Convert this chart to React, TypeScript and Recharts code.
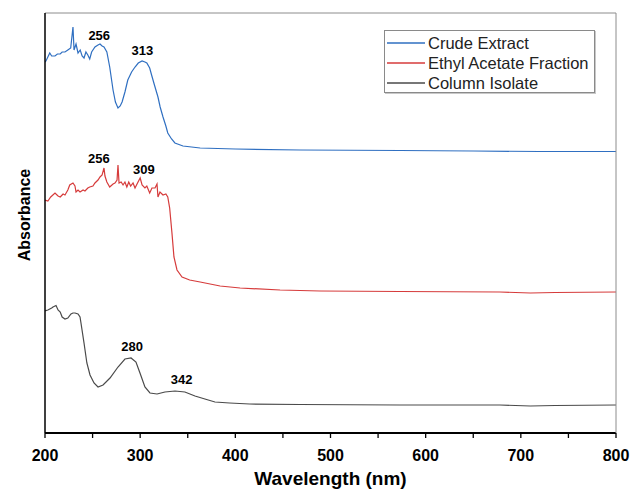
import { LineChart, Line, XAxis, YAxis, Legend, ReferenceDot } from "recharts"

// wavelength (nm) / absorbance (offset, arbitrary units)
const crudeWl = [200, 201, 205, 207, 210.5, 213, 216, 218, 221, 224, 227, 229.4, 230.5, 232.6, 234.7, 237, 239, 241, 243, 245, 247, 249, 252.5, 255.7, 257.8, 260, 262, 265, 268, 271.5, 274, 276.7, 279, 281, 284, 287, 291, 294.6, 298, 302, 305, 307, 310, 312, 315, 318.7, 321, 324, 327, 329, 333, 336.5, 345, 363, 400, 468, 573, 650, 720, 800]
const crudeAbs = [3.71, 3.72, 3.8, 3.77, 3.77, 3.79, 3.79, 3.81, 3.81, 3.83, 3.85, 4.06, 3.83, 3.89, 3.8, 3.83, 3.77, 3.75, 3.81, 3.78, 3.74, 3.81, 3.86, 3.88, 3.89, 3.87, 3.86, 3.81, 3.66, 3.43, 3.31, 3.25, 3.27, 3.31, 3.41, 3.53, 3.61, 3.66, 3.7, 3.72, 3.71, 3.7, 3.65, 3.58, 3.48, 3.36, 3.26, 3.16, 3.07, 3.0, 2.94, 2.9, 2.87, 2.85, 2.84, 2.83, 2.825, 2.82, 2.815, 2.815]

const ethylWl = [200, 203, 206, 210.5, 213.7, 216, 219, 221, 224, 226, 229.4, 231.5, 232.6, 234.7, 236.8, 240, 242, 245, 247, 250.4, 252.5, 255.7, 257.8, 260, 262, 263, 265, 268, 271.5, 273.5, 275.7, 276.7, 277.8, 280, 282, 284, 286, 288, 290, 292.5, 294.6, 296.7, 300, 302, 305, 307, 310, 312.4, 315.6, 317.7, 318.7, 320.8, 324, 327, 329, 331, 333.4, 335.5, 338.7, 344, 352, 363, 384, 405, 447, 489, 573, 678, 710, 736, 800]
const ethylAbs = [2.33, 2.32, 2.36, 2.4, 2.37, 2.36, 2.39, 2.38, 2.43, 2.48, 2.5, 2.47, 2.41, 2.43, 2.41, 2.43, 2.42, 2.45, 2.46, 2.47, 2.5, 2.53, 2.56, 2.58, 2.65, 2.57, 2.51, 2.46, 2.49, 2.5, 2.53, 2.68, 2.5, 2.51, 2.48, 2.51, 2.46, 2.51, 2.47, 2.5, 2.45, 2.49, 2.55, 2.48, 2.45, 2.47, 2.4, 2.45, 2.45, 2.49, 2.36, 2.41, 2.38, 2.39, 2.36, 2.25, 2.0, 1.76, 1.63, 1.56, 1.53, 1.51, 1.47, 1.45, 1.43, 1.42, 1.415, 1.41, 1.4, 1.405, 1.41]

const columnWl = [200, 203, 205, 207, 208.4, 210.5, 211.6, 213.7, 216, 218, 221, 224, 227.3, 229.4, 231.5, 234.7, 236.8, 237.8, 241, 244, 247.3, 251.5, 255.7, 261, 268.3, 276.7, 284, 290.4, 295.6, 299.8, 305, 310.3, 317.7, 326, 336.6, 347, 357.6, 368, 378.6, 394, 415, 468, 573, 678, 710, 736, 800]
const columnAbs = [1.22, 1.23, 1.24, 1.25, 1.26, 1.27, 1.275, 1.23, 1.21, 1.16, 1.14, 1.15, 1.19, 1.2, 1.2, 1.19, 1.16, 1.1, 0.9, 0.7, 0.58, 0.5, 0.46, 0.48, 0.55, 0.66, 0.74, 0.75, 0.71, 0.6, 0.46, 0.4, 0.39, 0.41, 0.42, 0.41, 0.37, 0.34, 0.31, 0.3, 0.29, 0.285, 0.28, 0.28, 0.27, 0.275, 0.28]

const xTicks = [200, 250, 300, 350, 400, 450, 500, 550, 600, 650, 700, 750, 800]

// peak labels: text, wavelength, absorbance at the text baseline
const peakText = ["256", "313", "256", "309", "280", "342"]
const peakWl = [257, 302.4, 256.7, 303.8, 291.6, 343.6]
const peakAbs = [3.935, 3.78, 2.7, 2.59, 0.82, 0.49]

const toRows = (wl: number[], abs: number[]) => wl.map((w, i) => ({ wl: w, a: abs[i] }))

const series = [
  { name: "Crude Extract", color: "#2f6fc1", data: toRows(crudeWl, crudeAbs) },
  { name: "Ethyl Acetate Fraction", color: "#d63b3b", data: toRows(ethylWl, ethylAbs) },
  { name: "Column Isolate", color: "#4a4a4a", data: toRows(columnWl, columnAbs) },
]

const FONT = "Arial, 'Liberation Sans', sans-serif"

function LegendBox() {
  return (
    <div
      style={{
        width: 211,
        height: 63,
        border: "1px solid #8a8a8a",
        boxShadow: "1px 1px 0 #c8c8c8",
        background: "#fff",
        fontFamily: FONT,
        fontSize: 16.5,
        lineHeight: "20px",
        color: "#222",
        paddingTop: 2,
        boxSizing: "border-box",
      }}
    >
      {series.map((s) => (
        <div key={s.name} style={{ display: "flex", alignItems: "center", height: 20, whiteSpace: "nowrap" }}>
          <svg width={38} height={4} style={{ marginLeft: 2, marginRight: 3, flex: "none" }}>
            <line x1={0} y1={2} x2={38} y2={2} stroke={s.color} strokeWidth={1.6} />
          </svg>
          <span>{s.name}</span>
        </div>
      ))}
    </div>
  )
}

function YTitle({ viewBox }: any) {
  const cx = viewBox.x + viewBox.width / 2 + 1.5
  const cy = viewBox.y + viewBox.height / 2 - 8
  return (
    <text
      x={cx}
      y={cy}
      transform={`rotate(-90, ${cx}, ${cy})`}
      textAnchor="middle"
      dominantBaseline="central"
      style={{ fontFamily: FONT, fontWeight: 700, fontSize: 16, fill: "#000" }}
    >
      Absorbance
    </text>
  )
}

export default function App() {
  const bold = { fontFamily: FONT, fontWeight: 700, fill: "#000" }
  return (
    <div style={{ position: "absolute", left: 0, top: 0, background: "#fff" }}>
      <LineChart width={632} height={493} margin={{ top: 0, right: 0, bottom: 0, left: 0 }}>
        <XAxis
          dataKey="wl"
          type="number"
          domain={[200, 800]}
          ticks={xTicks}
          tickFormatter={(v: number) => (v % 100 === 0 ? String(v) : "")}
          height={60}
          tickSize={5}
          tickMargin={12}
          stroke="#000"
          axisLine={{ stroke: "#000", strokeWidth: 1.8 }}
          tickLine={{ stroke: "#000", strokeWidth: 1.3 }}
          tick={{ ...bold, fontSize: 16 }}
          allowDataOverflow
          label={{ value: "Wavelength (nm)", position: "insideBottom", offset: 8, style: { ...bold, fontSize: 19 } }}
        />
        <XAxis
          xAxisId="top"
          orientation="top"
          type="number"
          domain={[200, 800]}
          height={13}
          tick={false}
          tickLine={false}
          axisLine={{ stroke: "#8c8c8c", strokeWidth: 1 }}
        />
        <YAxis
          type="number"
          domain={[0, 4.2]}
          width={45}
          tick={false}
          tickLine={false}
          axisLine={{ stroke: "#000", strokeWidth: 1.5 }}
          label={<YTitle />}
        />
        <YAxis
          yAxisId="right"
          orientation="right"
          type="number"
          domain={[0, 4.2]}
          width={16}
          tick={false}
          tickLine={false}
          axisLine={{ stroke: "#8c8c8c", strokeWidth: 1 }}
        />
        {series.map((s) => (
          <Line
            key={s.name}
            name={s.name}
            data={s.data}
            dataKey="a"
            type="linear"
            stroke={s.color}
            strokeWidth={1.2}
            dot={false}
            activeDot={false}
            legendType="line"
            isAnimationActive={false}
          />
        ))}
        {peakText.map((t, i) => (
          <ReferenceDot
            key={i}
            x={peakWl[i]}
            y={peakAbs[i]}
            r={0}
            fill="none"
            stroke="none"
            label={{ value: t, position: "top", offset: 0, style: { ...bold, fontSize: 13 } }}
          />
        ))}
        <Legend
          layout="vertical"
          align="center"
          verticalAlign="middle"
          content={<LegendBox />}
          wrapperStyle={{ left: 384, top: 30, width: 213 }}
        />
      </LineChart>
    </div>
  )
}
